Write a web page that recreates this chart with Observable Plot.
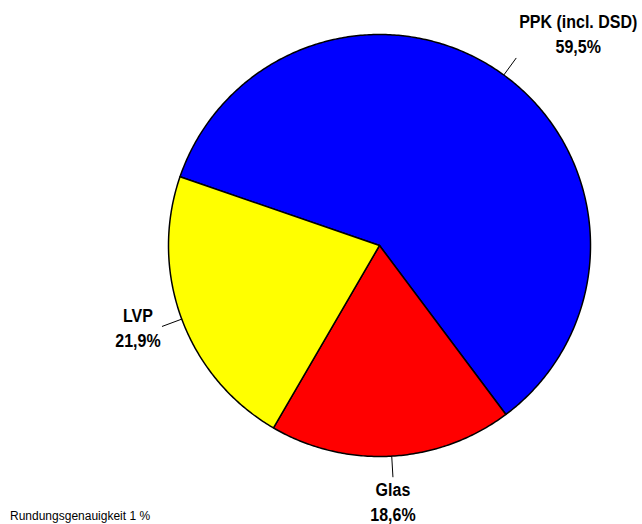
<!DOCTYPE html>
<html>
<head>
<meta charset="utf-8">
<script src="https://cdn.jsdelivr.net/npm/d3@7"></script>
<script src="https://cdn.jsdelivr.net/npm/@observablehq/plot@0.6"></script>
<style>
  html, body { margin: 0; padding: 0; background: #fff; }
  #wrap { position: relative; width: 642px; height: 524px; }
  #note { position: absolute; left: 10px; top: 509px; font: 12px "Liberation Sans", Arial, sans-serif; color: #000; white-space: nowrap; }
</style>
</head>
<body>
<div id="wrap"><div id="note">Rundungsgenauigkeit 1 %</div></div>
<script>
// ---- data ----
const categories = ["PPK (incl. DSD)", "Glas", "LVP"];
const shares = [59.5, 18.6, 21.9];
const valueLabels = ["59,5%", "18,6%", "21,9%"];

// ---- styling / layout ----
const palette = ["#0000ff", "#ff0000", "#ffff00"];
const startDeg = -71;            // first slice starts here (clockwise from 12 o'clock)
const leaderOuter = 1.1;         // leader line end, as a fraction of the radius
const labelStretch = 1.16;       // vertical stretch of the label glyphs
const labelOffsets = [           // dx, dy (px) of each label block from its leader end
  {dx: 62, dy: -47.8},
  {dx: 0, dy: 1.2},
  {dx: -24, dy: -22}
];
const labelFont = "'Liberation Sans', Arial, sans-serif";

const pie = d3.pie().sort(null).value(d => d.share)
  .startAngle(startDeg * Math.PI / 180)
  .endAngle(startDeg * Math.PI / 180 + 2 * Math.PI);
const rows = categories.map((c, i) => ({name: c, share: shares[i], label: valueLabels[i]}));
const arcs = pie(rows);

// polygon outline of each slice in unit coordinates (y up)
const slicePts = [];
arcs.forEach(a => {
  const n = Math.max(8, Math.ceil((a.endAngle - a.startAngle) / 0.01));
  slicePts.push({name: a.data.name, x: 0, y: 0});
  for (let k = 0; k <= n; k++) {
    const t = a.startAngle + (a.endAngle - a.startAngle) * k / n;
    slicePts.push({name: a.data.name, x: Math.sin(t), y: Math.cos(t)});
  }
  slicePts.push({name: a.data.name, x: 0, y: 0});
});

const leaders = arcs.map(a => {
  const m = (a.startAngle + a.endAngle) / 2;
  return {name: a.data.name, label: a.data.label,
    x1: Math.sin(m), y1: Math.cos(m), x2: leaderOuter * Math.sin(m), y2: leaderOuter * Math.cos(m)};
});

const labelMarks = leaders.map((l, i) => Plot.text([l], {
  x: "x2", y: "y2",
  text: d => d.name + "\n" + d.label,
  textAnchor: "middle",
  lineAnchor: "top",
  lineHeight: 1.35,
  dx: labelOffsets[i].dx, dy: labelOffsets[i].dy,
  fontSize: 16, fontWeight: "bold", fontFamily: labelFont, fill: "#000"
}));

const chart = Plot.plot({
  width: 642, height: 524,
  marginLeft: 168, marginRight: 52, marginTop: 34, marginBottom: 68,
  x: {domain: [-1, 1], axis: null},
  y: {domain: [-1, 1], axis: null},
  color: {domain: categories, range: palette},
  style: {background: "transparent", overflow: "visible"},
  marks: [
    Plot.line(slicePts, {x: "x", y: "y", z: "name", fill: "name", stroke: "#000", strokeWidth: 1.5, strokeLinejoin: "round", curve: "linear"}),
    Plot.link(leaders, {x1: "x1", y1: "y1", x2: "x2", y2: "y2", stroke: "#000", strokeWidth: 1}),
    ...labelMarks
  ]
});
// stretch the label glyphs vertically, like the reference's tall bold type
d3.select(chart).selectAll("text").each(function () {
  const t = this.getAttribute("transform") || "";
  this.setAttribute("transform", (t + ` scale(1,${labelStretch})`).trim());
});
document.getElementById("wrap").prepend(chart);
</script>
</body>
</html>
